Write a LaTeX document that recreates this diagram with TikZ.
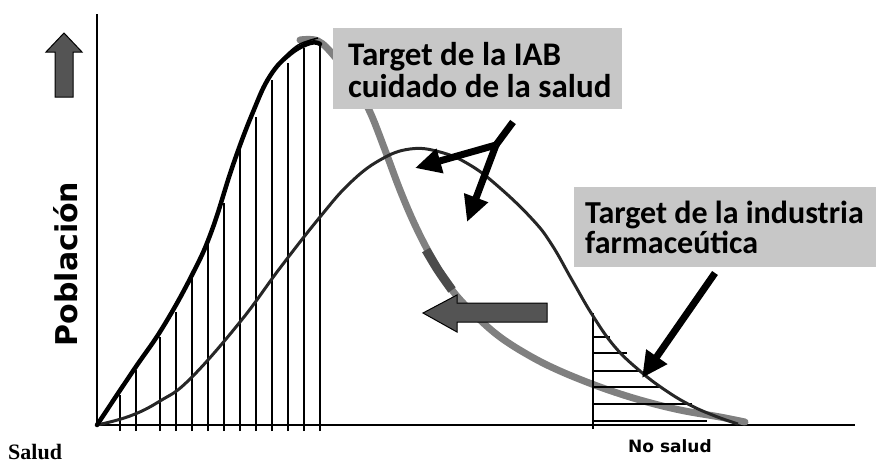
\documentclass[tikz,border=0pt]{standalone}
\usepackage{fontspec}
\newfontfamily\calfont{Carlito}
\newfontfamily\verfont{DejaVu Sans}
\newfontfamily\timfont{Liberation Serif}
\usetikzlibrary{arrows.meta}

\begin{document}
\begin{tikzpicture}[x=1pt,y=-1pt,
  axis/.style={line width=1.6pt},
  hatch/.style={line width=2.8pt},
  tbox/.style={fill=black!22, anchor=north west, inner sep=0pt},
  blabel/.style={anchor=base west, inner sep=0pt, font=\calfont\bfseries\fontsize{33}{32}\selectfont},
  pointer/.style={line width=7pt, -{Triangle[length=26pt,width=24pt]}},
  blockarrow/.style={fill=black!67, draw=black, line width=1pt, line join=miter}]
\useasboundingbox (0,0) rectangle (876,464);

% axes
\coordinate (top) at (97,14);
\coordinate (origin) at (97,425);
\coordinate (right) at (855,425);
\draw[axis] (top) -- (origin) -- (right);

% shifted curve (gray)
\draw[line width=7pt, black!50, line cap=round] plot[smooth, tension=0.6] coordinates {
  (300,40) (318,41) (335,57) (355,85) (370,112) (385,150) (400,190)
  (415,225) (432,258) (452,290) (475,315) (500,337) (530,356) (560,371)
  (600,387) (640,400) (680,410) (720,417) (745,422)};
\draw[line width=9pt, black!70] plot[smooth] coordinates {(426,250) (438,270) (452,290)};

% vertical hatching
\foreach \x/\t in {120/395,136/370,160/337,176/312,192/275,208/237,224/203,
                   240/150,256/117,272/80,288/63,304/48,320/43}
  \draw[hatch] (\x,431) -- (\x,\t);

% horizontal hatching
\draw[hatch] (593,313) -- (593,429);
\foreach \y/\r in {337/610,353/627,371/640,387/660,404/692,421/707}
  \draw[line width=2.4pt] (593,\y) -- (\r,\y);

% normal curve
\draw[line width=3pt, black!85] plot[smooth, tension=0.7] coordinates {
  (97,425) (130,416) (160,401) (190,379) (240,322) (280,268) (320,217)
  (350,183) (380,160) (410,149) (440,152) (470,165) (500,188) (533,220)
  (552,245) (572,280) (593,316) (615,347) (640,371) (665,390) (690,405)
  (715,416) (738,424)};

% healthy curve
\draw[line width=4.5pt, line cap=round] plot[smooth, tension=0.7] coordinates {
  (97,425) (133,371) (163,327) (193,273) (212,230) (233,165) (253,112)
  (270,76) (290,54) (310,43) (320,44)};
\draw[line width=1.5pt] plot[smooth] coordinates {(262,92) (280,62) (298,45) (318,38)};

% boxes
\node[tbox, minimum width=289pt, minimum height=81pt] (iab) at (333,28) {};
\node[blabel] (iab1) at (348,65) {Target de la IAB};
\node[blabel] (iab2) at (348,97) {cuidado de la salud};
\node[tbox, minimum width=303pt, minimum height=80pt] (farma) at (574,187) {};
\node[blabel, font=\calfont\bfseries\fontsize{32}{30}\selectfont] (farma1) at (585,223) {Target de la industria};
\node[blabel, font=\calfont\bfseries\fontsize{32}{30}\selectfont] (farma2) at (585,253) {farmaceútica};

% pointers
\coordinate (ystem) at (513,122);
\coordinate (yfork) at (496,145);
\coordinate (peaktip) at (415,168);
\coordinate (midtip) at (467,222);
\draw[line width=7pt] (ystem) -- (yfork);
\draw[pointer] (yfork) -- (peaktip);
\draw[pointer] (yfork) -- (midtip);
\coordinate (fstem) at (715,273);
\coordinate (ftip) at (642,378);
\draw[pointer] (fstem) -- (ftip);

% block arrows
\draw[blockarrow] (547,303) -- (457,303) -- (457,295) -- (423,313) -- (457,332)
  -- (457,322) -- (547,322) -- cycle;
\draw[blockarrow] (55,97) -- (55,52) -- (46,52) -- (64,33) -- (82,52) -- (73,52)
  -- (73,97) -- cycle;

% labels
\node[rotate=90, anchor=base, inner sep=0pt, font=\verfont\bfseries\fontsize{30}{36}\selectfont] (pob) at (77,264) {Población};
\node[anchor=base, inner sep=0pt, font=\verfont\bfseries\fontsize{17}{20}\selectfont] (nosalud) at (670,452) {No salud};
\node[anchor=base west, inner sep=0pt, font=\timfont\bfseries\fontsize{22}{26}\selectfont] (salud) at (8,459) {Salud};
\end{tikzpicture}
\end{document}
